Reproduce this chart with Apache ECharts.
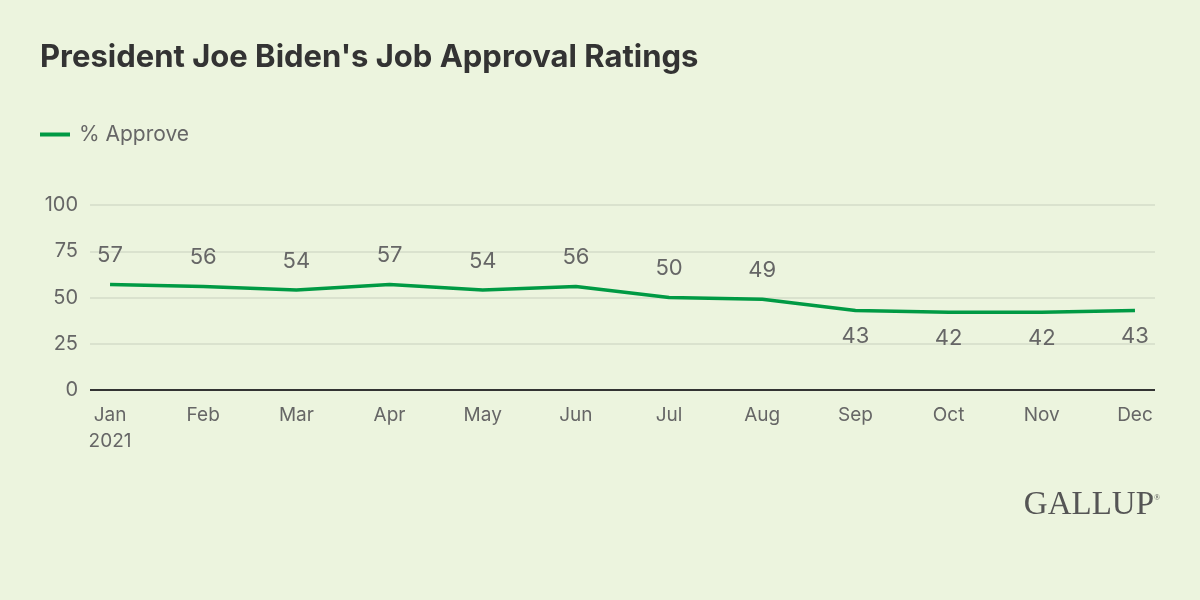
<!DOCTYPE html>
<html><head><meta charset="utf-8">
<script src="https://cdn.jsdelivr.net/npm/echarts@6/dist/echarts.min.js"></script>
<style>html,body{margin:0;padding:0;background:#ecf4de;}#c{width:1200px;height:600px;}</style>
</head><body><div id="c"></div>
<script>
const months = ['Jan\n2021','Feb','Mar','Apr','May','Jun','Jul','Aug','Sep','Oct','Nov','Dec'];
const approve = [57,56,54,57,54,56,50,49,43,42,42,43];
const labelBelow = [false,false,false,false,false,false,false,false,true,true,true,true];
const yTicks = [0,25,50,75,100];

const green = '#009a44';
const textCol = '#666666';
const font = 'Inter, Roboto, "Noto Sans", sans-serif';

const chart = echarts.init(document.getElementById('c'));
chart.setOption({
  backgroundColor: '#ecf4de',
  animation: false,
  title: {
    text: "President Joe Biden's Job Approval Ratings",
    left: 35, top: 37,
    textStyle: {fontFamily: font, fontSize: 31, fontWeight: 'bold', color: '#333333'}
  },
  legend: {
    left: 35, top: 119,
    itemWidth: 30, itemHeight: 4, itemGap: 10,
    icon: 'rect',
    textStyle: {fontFamily: font, fontSize: 21, color: textCol, padding: [0, 0, 0, 4]},
    data: ['% Approve']
  },
  grid: {left: 90, right: 45, top: 205, bottom: 210},
  xAxis: {
    type: 'value', min: -0.215, max: 11.215,
    axisLine: {show: false},
    axisTick: {show: false},
    splitLine: {show: false},
    axisLabel: {
      customValues: months.map((m, i) => i),
      formatter: v => months[Math.round(v)],
      fontFamily: font, fontSize: 19, color: textCol, margin: 12, lineHeight: 26,
      verticalAlign: 'top'
    }
  },
  yAxis: {
    type: 'value', min: 0, max: 100, interval: 25,
    axisLine: {show: false}, axisTick: {show: false},
    axisLabel: {fontFamily: font, fontSize: 20, color: textCol, margin: 12,
      customValues: yTicks},
    splitLine: {lineStyle: {color: '#d4dcc8', width: 1.5}}
  },
  series: [{
    name: '% Approve',
    type: 'line',
    data: approve.map((v, i) => ({
      value: [i, v],
      label: {position: labelBelow[i] ? 'bottom' : 'top', distance: labelBelow[i] ? 15 : 18}
    })),
    symbol: 'circle',
    symbolSize: 0,
    showSymbol: true,
    lineStyle: {color: green, width: 3.5},
    itemStyle: {color: green},
    label: {show: true, fontFamily: font, fontSize: 22, color: textCol,
      formatter: p => p.value[1]},
    markLine: {
      silent: true, symbol: 'none', label: {show: false},
      lineStyle: {color: '#333333', width: 2, type: 'solid'},
      data: [{yAxis: 0}]
    }
  }],
  graphic: [{
    type: 'text', right: 46, top: 489,
    style: {text: 'GALLUP', font: '33px "Liberation Serif", "DejaVu Serif", serif', fill: '#555555'}
  }, {
    type: 'text', right: 40, top: 494,
    style: {text: '®', font: '8px "Liberation Serif", serif', fill: '#555555'}
  }]
});
</script></body></html>
